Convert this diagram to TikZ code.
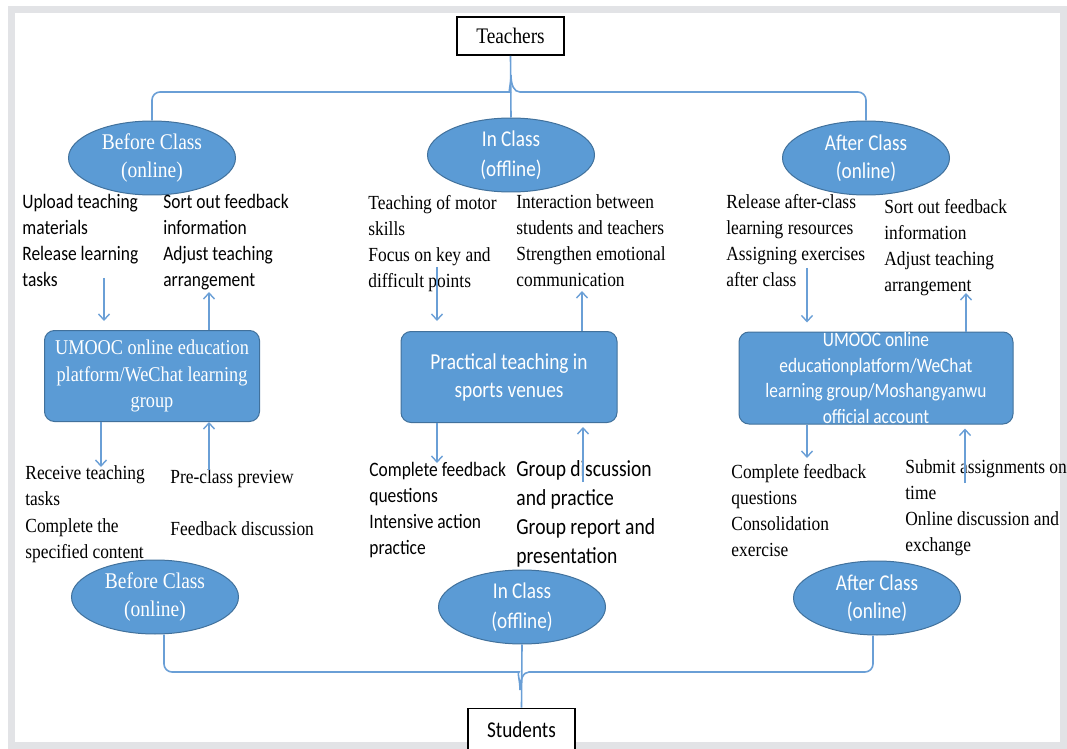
\documentclass[tikz,border=0pt]{standalone}
\usepackage{fontspec}
\setmainfont{Liberation Serif}[FakeStretch=0.87]
\newfontfamily\calib{Carlito}[FakeStretch=0.85]
\usetikzlibrary{arrows.meta,shapes.geometric,calc}
\definecolor{officeblue}{HTML}{5B9BD5}
\definecolor{officeedge}{HTML}{41719C}
\definecolor{linkblue}{HTML}{6A9FD6}
\definecolor{framegray}{HTML}{E2E3E6}
\newcommand{\tasksf}{\calib\fontsize{10.25}{13}\selectfont}
\newcommand{\taskrm}{\rmfamily\fontsize{10}{13}\selectfont}

\begin{document}
\begin{tikzpicture}[x=0.5pt, y=-0.5pt,
  phase/.style={ellipse, draw=officeedge, line width=0.5pt, fill=officeblue,
  text=white, align=center, inner sep=0pt, minimum width=83.5pt, minimum height=37pt},
  platform/.style={draw=officeedge, line width=0.5pt, fill=officeblue, text=white,
  rounded corners=5pt, align=center, inner sep=2pt, minimum width=107.5pt, minimum height=45.5pt},
  role/.style={draw=black, line width=0.8pt, fill=white, align=center,
  minimum width=53.5pt, minimum height=19pt, inner sep=0pt},
  task/.style={anchor=north west, align=left, inner sep=0pt},
  link/.style={draw=linkblue, line width=0.8pt},
  arrow/.style={-{Straight Barb[length=3pt,width=5.5pt]}, draw=linkblue, line width=0.7pt}
]
\useasboundingbox (0,0) rectangle (1067,749);
\draw[framegray, line width=3.5pt] (11,10) rectangle (1063,745);

% roles
\node[role, font=\rmfamily\fontsize{11.1}{13}\selectfont] (teachers) at (510.5,36) {Teachers};
\node[role, font=\calib\fontsize{11.3}{13}\selectfont, minimum height=21.5pt] (students) at (521.5,730) {Students};

% phases, teacher side
\node[phase, font=\rmfamily\fontsize{11.2}{14}\selectfont] (bc1) at (152,158) {Before Class\\(online)};
\node[phase, font=\calib\fontsize{11.3}{15}\selectfont] (ic1) at (511,155) {In Class\\(offline)};
\node[phase, font=\calib\fontsize{11.3}{14}\selectfont] (ac1) at (866,158) {After Class\\(online)};

% phases, student side
\node[phase, font=\rmfamily\fontsize{11.2}{14}\selectfont] (bc2) at (155,597) {Before Class\\(online)};
\node[phase, font=\calib\fontsize{11.3}{15}\selectfont] (ic2) at (522,607) {In Class\\(offline)};
\node[phase, font=\calib\fontsize{11.3}{14}\selectfont] (ac2) at (877,598) {After Class\\(online)};

% platforms
\node[platform, font=\rmfamily\fontsize{10.5}{13.3}\selectfont] (lbox) at (152,376)
  {UMOOC online education\\platform/WeChat learning\\group};
\node[platform, font=\calib\fontsize{11.4}{14}\selectfont, minimum width=108pt] (mbox) at (509,377)
  {Practical teaching in\\sports venues};
\node[platform, font=\calib\fontsize{10.2}{12.85}\selectfont, minimum width=137pt,
  minimum height=46pt, inner ysep=-2pt] (rbox) at (876,378)
  {UMOOC online\\educationplatform/WeChat\\learning group/Moshangyanwu\\official account};

% teacher tasks
\node[task, font=\tasksf] (tl1) at (22,194) {Upload teaching\\materials\\Release learning\\tasks};
\node[task, font=\tasksf] (tl2) at (163,194) {Sort out feedback\\information\\Adjust teaching\\arrangement};
\node[task, font=\taskrm] (tm1) at (368,195) {Teaching of motor\\skills\\Focus on key and\\difficult points};
\node[task, font=\taskrm] (tm2) at (516,194) {Interaction between\\students and teachers\\Strengthen emotional\\communication};
\node[task, font=\taskrm] (tr1) at (726,194) {Release after-class\\learning resources\\Assigning exercises\\after class};
\node[task, font=\taskrm] (tr2) at (884,199) {Sort out feedback\\information\\Adjust teaching\\arrangement};

% student tasks
\node[task, font=\rmfamily\fontsize{10}{13.2}\selectfont] (bl1) at (25,465) {Receive teaching\\tasks\\Complete the\\specified content};
\node[task, font=\taskrm] (bl2) at (170,469) {Pre-class preview\\[13pt]Feedback discussion};
\node[task, font=\tasksf] (bm1) at (369,462) {Complete feedback\\questions\\Intensive action\\practice};
\node[task, font=\calib\fontsize{11.5}{14.5}\selectfont] (bm2) at (516,460) {Group discussion\\and practice\\Group report and\\presentation};
\node[task, font=\taskrm] (br1) at (731,464) {Complete feedback\\questions\\Consolidation\\exercise};
\node[task, font=\taskrm] (br2) at (905,459) {Submit assignments on\\time\\Online discussion and\\exchange};

% teacher bracket
\coordinate (tbar) at (511,92);
\coordinate (ttip) at (511,75);
\draw[link] (teachers.south) -- (ic1.north);
\draw[link] (bc1.north) [rounded corners=4pt] -- (bc1.north |- tbar) -- ($(tbar)+(-9,0)$)
  [sharp corners] .. controls ($(tbar)+(-3,0)$) and ($(ttip)+(0,10)$) .. (ttip)
  .. controls ($(ttip)+(0,10)$) and ($(tbar)+(3,0)$) .. ($(tbar)+(9,0)$)
  [rounded corners=4pt] -- (ac1.north |- tbar) -- (ac1.north);

% student bracket
\coordinate (bbar) at (520,672);
\coordinate (btip) at (520,690);
\coordinate (bcl) at ($(bc2.south)+(9,0)$);
\coordinate (bcr) at ($(ac2.south)+(-4,0)$);
\draw[link] (ic2.south) -- (students.north);
\draw[link] (bcl) [rounded corners=4pt] -- (bcl |- bbar) -- ($(bbar)+(-9,0)$)
  [sharp corners] .. controls ($(bbar)+(-3,0)$) and ($(btip)+(0,-10)$) .. (btip)
  .. controls ($(btip)+(0,-10)$) and ($(bbar)+(3,0)$) .. ($(bbar)+(9,0)$)
  [rounded corners=4pt] -- (bcr |- bbar) -- (bcr);

% arrows, left
\coordinate (l1) at (104,278);
\coordinate (l2) at (209,292);
\coordinate (l3) at (101,467);
\coordinate (l4) at (209,470);
\draw[arrow, shorten >=4.5pt] (l1) -- (l1 |- lbox.north);
\draw[arrow] (l2 |- lbox.north) -- (l2);
\draw[arrow] (l3 |- lbox.south) -- (l3);
\draw[arrow] (l4) -- (l4 |- lbox.south);

% arrows, middle
\coordinate (m1) at (437,267);
\coordinate (m2) at (582,291);
\coordinate (m3) at (437,463);
\coordinate (m4) at (583,482);
\draw[arrow, shorten >=5pt] (m1) -- (m1 |- mbox.north);
\draw[arrow] (m2 |- mbox.north) -- (m2);
\draw[arrow] (m3 |- mbox.south) -- (m3);
\draw[arrow, shorten >=2pt] (m4) -- (m4 |- mbox.south);

% arrows, right
\coordinate (r1) at (807,268);
\coordinate (r2) at (966,293);
\coordinate (r3) at (807,458);
\coordinate (r4) at (965,483);
\draw[arrow, shorten >=4.5pt] (r1) -- (r1 |- rbox.north);
\draw[arrow] (r2 |- rbox.north) -- (r2);
\draw[arrow] (r3 |- rbox.south) -- (r3);
\draw[arrow, shorten >=2pt] (r4) -- (r4 |- rbox.south);
\end{tikzpicture}
\end{document}
